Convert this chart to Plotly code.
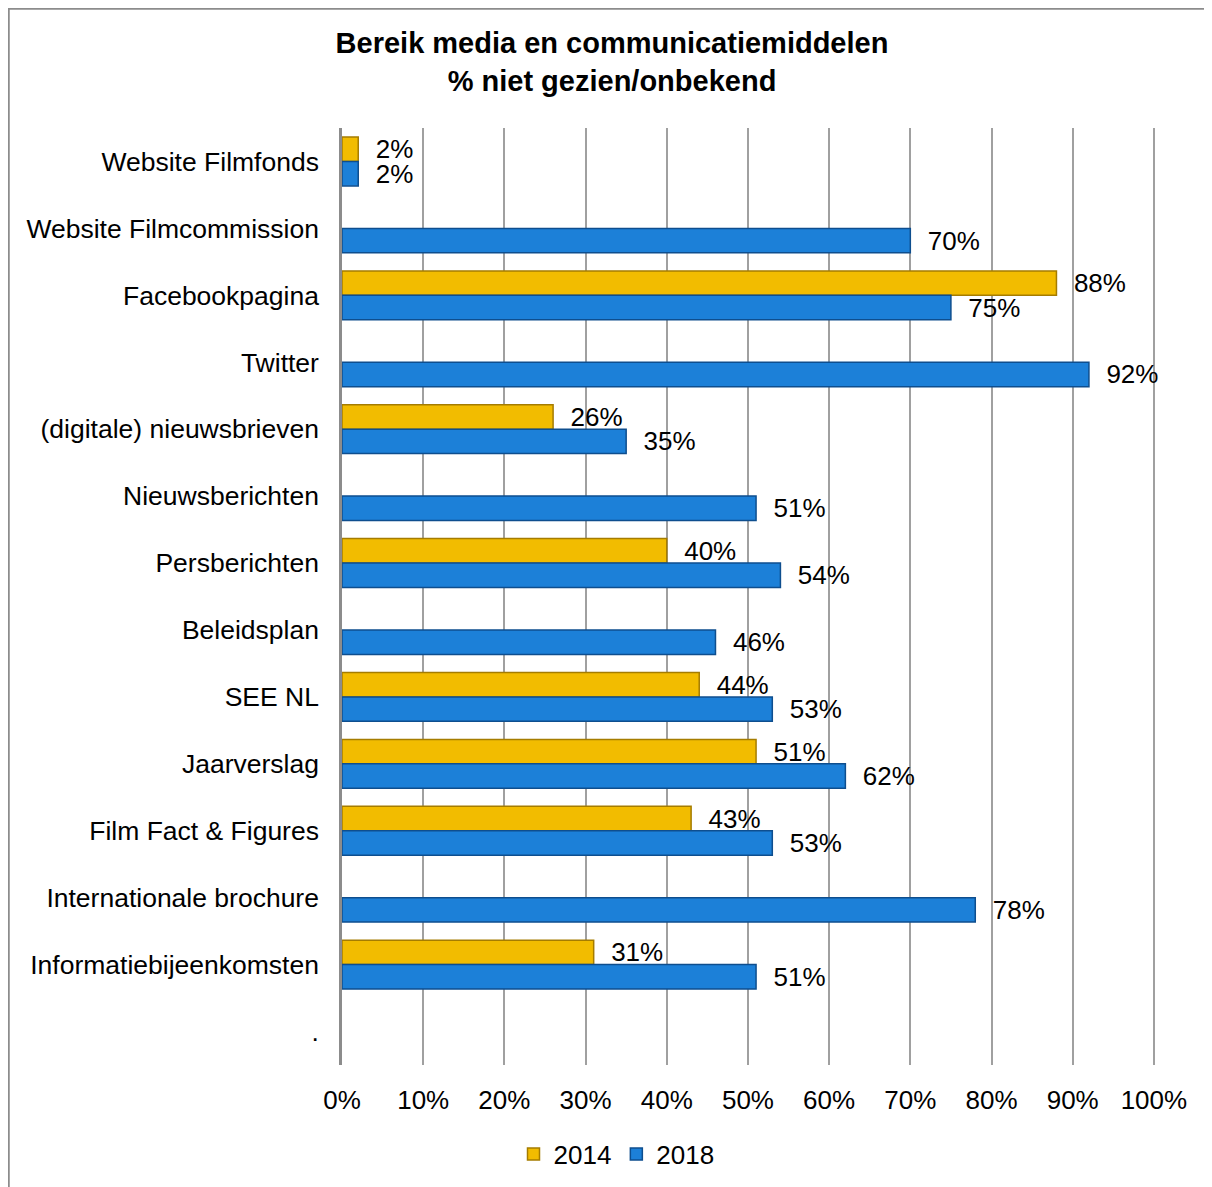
import plotly.graph_objects as go

categories = ["Website Filmfonds", "Website Filmcommission", "Facebookpagina", "Twitter",
              "(digitale) nieuwsbrieven", "Nieuwsberichten", "Persberichten", "Beleidsplan",
              "SEE NL", "Jaarverslag", "Film Fact & Figures", "Internationale brochure",
              "Informatiebijeenkomsten", "."]
values_2014 = [2, None, 88, None, 26, None, 40, None, 44, 51, 43, None, 31, None]
values_2018 = [2, 70, 75, 92, 35, 51, 54, 46, 53, 62, 53, 78, 51, None]
x_ticks = [0, 10, 20, 30, 40, 50, 60, 70, 80, 90, 100]

FONT = "Arial, Liberation Sans, sans-serif"

def labels(vals):
    return ["  %d%%" % v if v is not None else "" for v in vals]

fig = go.Figure()
fig.add_trace(go.Bar(
    name="2014", y=categories, x=values_2014, orientation="h",
    marker=dict(color="#F2BC00", line=dict(color="#A57C00", width=1.5)),
    text=labels(values_2014), textposition="outside", cliponaxis=False,
    constraintext="none",
    textfont=dict(family=FONT, size=26, color="black"),
))
fig.add_trace(go.Bar(
    name="2018", y=categories, x=values_2018, orientation="h",
    marker=dict(color="#1C80D8", line=dict(color="#0E4E8E", width=1.5)),
    text=labels(values_2018), textposition="outside", cliponaxis=False,
    constraintext="none",
    textfont=dict(family=FONT, size=26, color="black"),
))

# page has an 8px body margin; size the figure so it fills the window
W, H = 1204, 1179
L, R, T, B = 334, 50, 120, 122
pw, ph = W - L - R, H - T - B

fig.update_layout(
    width=W, height=H,
    margin=dict(l=L, r=R, t=T, b=B),
    paper_bgcolor="white", plot_bgcolor="white",
    barmode="group", bargap=0.27, bargroupgap=0,
    font=dict(family=FONT, size=26, color="black"),
    title=dict(text="<b>Bereik media en communicatiemiddelen<br>% niet gezien/onbekend</b>",
               x=604 / W, xanchor="center", xref="container",
               y=1 - 45 / H, yanchor="top", yref="container",
               font=dict(family=FONT, size=29, color="black")),
    legend=dict(orientation="h", xref="container", x=608.5 / W, xanchor="center",
                yref="container", y=1 - 1146 / H, yanchor="middle",
                font=dict(family=FONT, size=26, color="black"),
                traceorder="normal"),
    shapes=[dict(type="rect", xref="paper", yref="paper",
                 x0=(0.5 - L) / pw, x1=(W + 5 - L) / pw,
                 y0=-(H + 5 - (T + ph)) / ph, y1=((T + ph) - 0.5) / ph,
                 line=dict(color="#8C8C8C", width=2.5), fillcolor="rgba(0,0,0,0)",
                 layer="below")],
)
fig.update_xaxes(range=[0, 101], tickvals=x_ticks, ticktext=["%d%%" % t for t in x_ticks],
                 showgrid=True, gridcolor="#A0A0A0", gridwidth=2,
                 zeroline=False, showline=False, ticks="", ticklabelstandoff=17,
                 tickfont=dict(family=FONT, size=26, color="black"), fixedrange=True)
fig.update_yaxes(categoryorder="array", categoryarray=categories, autorange="reversed",
                 showgrid=False, showline=True, linecolor="#8C8C8C", linewidth=2.5,
                 ticks="", ticklabelstandoff=15,
                 tickfont=dict(family=FONT, size=26.5, color="black"))

fig.write_html("out.html")
